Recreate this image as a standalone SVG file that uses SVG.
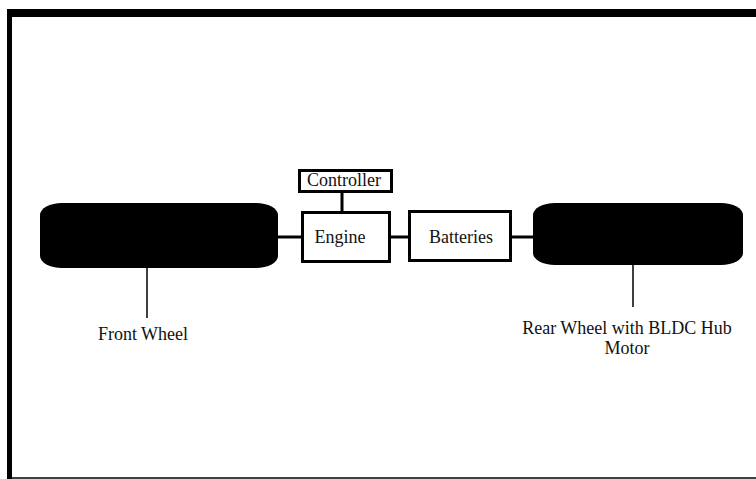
<svg xmlns="http://www.w3.org/2000/svg" width="756" height="479" viewBox="0 0 756 479">
<style>
.box{fill:#fff;stroke:#000;stroke-width:3}
.wheel{fill:#000}
.lbl{font-family:"Liberation Serif","Times New Roman",serif;font-size:18px;fill:#111;text-anchor:middle}
.conn{stroke:#000;stroke-width:3;fill:none}
.stem{stroke:#000;stroke-width:1.5;fill:none}
</style>
<rect x="0" y="0" width="756" height="479" fill="#fff"/>
<g id="frame">
<rect x="7" y="9" width="749" height="8" fill="#000"/>
<rect x="7" y="9" width="5" height="470" fill="#000"/>
<line x1="12" y1="478" x2="756" y2="478" stroke="#000" stroke-width="1.5"/>
</g>
<g id="connectors">
<line class="conn" x1="278" y1="237" x2="302" y2="237"/>
<line class="conn" x1="342" y1="192" x2="342" y2="212"/>
<line class="conn" x1="390" y1="237" x2="408" y2="237"/>
<line class="conn" x1="511" y1="237" x2="534" y2="237"/>
<line class="stem" x1="147" y1="268" x2="147" y2="318"/>
<line class="stem" x1="633" y1="265" x2="633" y2="307"/>
</g>
<g id="front-wheel">
<rect class="wheel" x="40" y="203" width="238" height="65" rx="22" ry="12"/>
<text class="lbl" x="143" y="340">Front Wheel</text>
</g>
<g id="controller">
<rect class="box" x="299.5" y="170.5" width="92" height="21"/>
<text class="lbl" x="344" y="186">Controller</text>
</g>
<g id="engine">
<rect class="box" x="302.5" y="212.5" width="87" height="49"/>
<text class="lbl" x="340" y="243">Engine</text>
</g>
<g id="batteries">
<rect class="box" x="409.5" y="211.5" width="101" height="49"/>
<text class="lbl" x="461" y="243">Batteries</text>
</g>
<g id="rear-wheel">
<rect class="wheel" x="533" y="203" width="210" height="62" rx="22" ry="12"/>
<text class="lbl" x="627" y="334">Rear Wheel with BLDC Hub</text>
<text class="lbl" x="627" y="354">Motor</text>
</g>
</svg>
